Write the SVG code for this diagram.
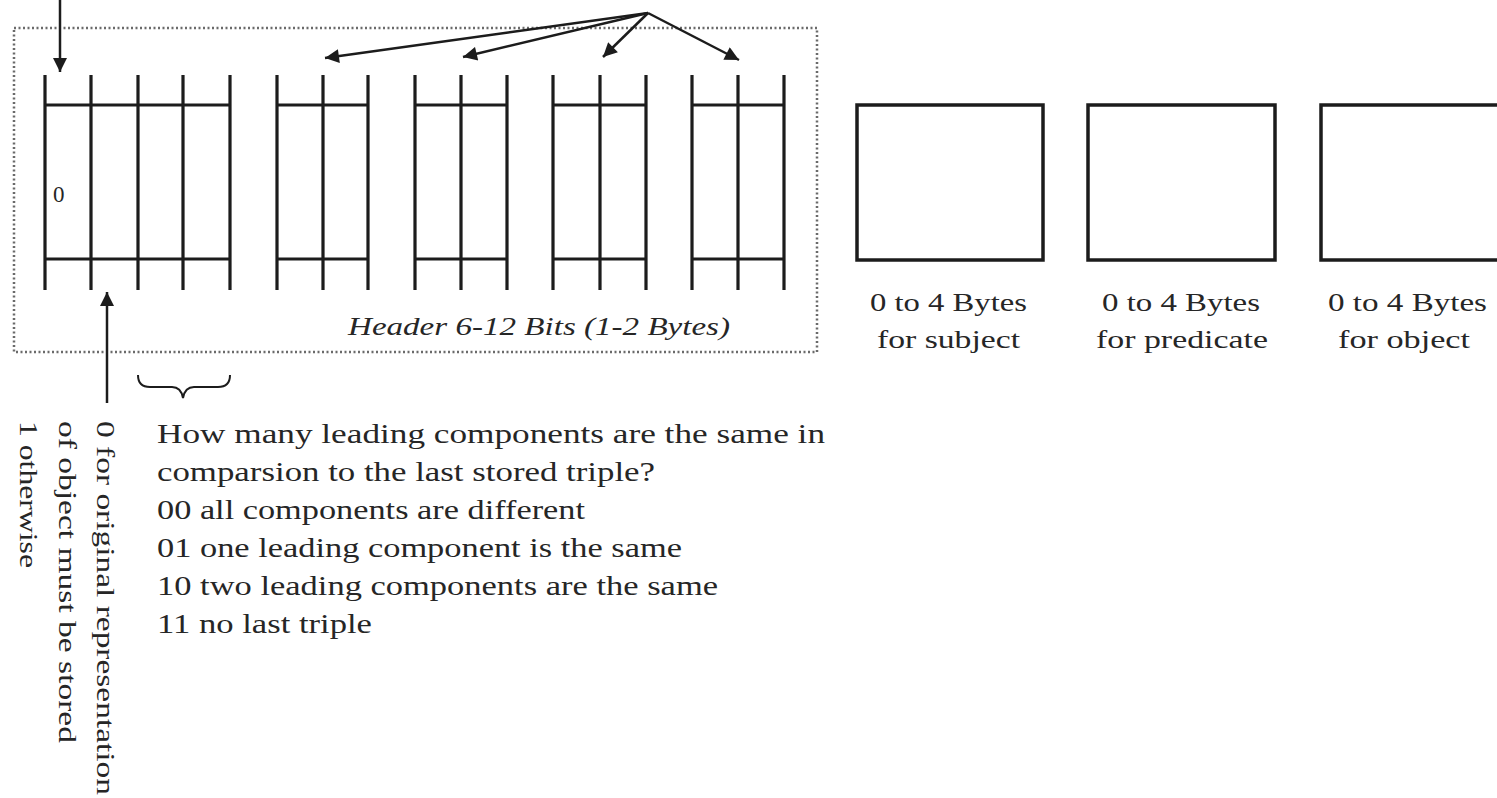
<svg xmlns="http://www.w3.org/2000/svg" width="1497" height="798" viewBox="0 0 1497 798">
  <style>
    .bit { stroke: #1c1c1c; stroke-width: 3.2; fill: none; }
    .box { stroke: #1c1c1c; stroke-width: 3.5; fill: #ffffff; }
    .dot { stroke: #6a6a6a; stroke-width: 2.5; stroke-dasharray: 2 2.5; fill: none; }
    .arr { stroke: #1c1c1c; stroke-width: 2.5; fill: none; marker-end: url(#ah); }
    .txt { font-family: "Liberation Serif", "Times New Roman", serif; fill: #262626; }
    .it { font-style: italic; }
  </style>
  <defs>
    <marker id="ah" viewBox="0 0 10 10" refX="10" refY="5" markerWidth="16" markerHeight="14" markerUnits="userSpaceOnUse" orient="auto">
      <path d="M0,0 L10,5 L0,10 z" fill="#1c1c1c"/>
    </marker>
  </defs>
  <rect width="1497" height="798" fill="#ffffff"/>

  <g id="header">
    <rect class="dot" x="14" y="28" width="803" height="324"/>
    <g id="bits-prefix">
      <path class="bit" d="M45,75 V290 M91,75 V290 M138,75 V290 M183,75 V290 M230,75 V290 M45,105 H230 M45,259 H230"/>
      <text class="txt" x="53" y="202" font-size="23" fill="#555">0</text>
    </g>
    <g id="bits-2">
      <path class="bit" d="M277,75 V290 M323,75 V290 M368,75 V290 M277,105 H368 M277,259 H368"/>
    </g>
    <g id="bits-3">
      <path class="bit" d="M415,75 V290 M461,75 V290 M507,75 V290 M415,105 H507 M415,259 H507"/>
    </g>
    <g id="bits-4">
      <path class="bit" d="M553,75 V290 M600,75 V290 M646,75 V290 M553,105 H646 M553,259 H646"/>
    </g>
    <g id="bits-5">
      <path class="bit" d="M692,75 V290 M738,75 V290 M784,75 V290 M692,105 H784 M692,259 H784"/>
    </g>
    <text class="txt it" x="348" y="335" font-size="26" textLength="382" lengthAdjust="spacingAndGlyphs">Header 6-12 Bits (1-2 Bytes)</text>
  </g>

  <g id="subject">
    <rect class="box" x="857" y="105" width="186" height="155"/>
    <text class="txt" x="870" y="311" font-size="26" textLength="157" lengthAdjust="spacingAndGlyphs">0 to 4 Bytes</text>
    <text class="txt" x="877" y="348" font-size="26" textLength="143" lengthAdjust="spacingAndGlyphs">for subject</text>
  </g>
  <g id="predicate">
    <rect class="box" x="1088" y="105" width="187" height="155"/>
    <text class="txt" x="1102" y="311" font-size="26" textLength="158" lengthAdjust="spacingAndGlyphs">0 to 4 Bytes</text>
    <text class="txt" x="1096" y="348" font-size="26" textLength="172" lengthAdjust="spacingAndGlyphs">for predicate</text>
  </g>
  <g id="object">
    <path class="box" d="M1500,105 H1321 V260 H1500"/>
    <text class="txt" x="1328" y="311" font-size="26" textLength="159" lengthAdjust="spacingAndGlyphs">0 to 4 Bytes</text>
    <text class="txt" x="1338" y="348" font-size="26" textLength="132" lengthAdjust="spacingAndGlyphs">for object</text>
  </g>

  <g id="brace">
    <path d="M138,375 Q138,387 150,387 L172,387 Q181,387 183,398 Q185,387 194,387 L218,387 Q230,387 230,375" stroke="#1c1c1c" stroke-width="2" fill="none"/>
  </g>

  <g id="leading-note">
    <text class="txt" x="157" y="443" font-size="27" textLength="668" lengthAdjust="spacingAndGlyphs">How many leading components are the same in</text>
    <text class="txt" x="157" y="481" font-size="27" textLength="498" lengthAdjust="spacingAndGlyphs">comparsion to the last stored triple?</text>
    <text class="txt" x="157" y="519" font-size="27" textLength="428" lengthAdjust="spacingAndGlyphs">00 all components are different</text>
    <text class="txt" x="157" y="557" font-size="27" textLength="525" lengthAdjust="spacingAndGlyphs">01 one leading component is the same</text>
    <text class="txt" x="157" y="595" font-size="27" textLength="561" lengthAdjust="spacingAndGlyphs">10 two leading components are the same</text>
    <text class="txt" x="157" y="633" font-size="27" textLength="215" lengthAdjust="spacingAndGlyphs">11 no last triple</text>
  </g>

  <g id="object-flag-note">
    <text class="txt" transform="translate(97,421) rotate(90)" font-size="25" textLength="374" lengthAdjust="spacingAndGlyphs">0 for original representation</text>
    <text class="txt" transform="translate(59,421) rotate(90)" font-size="25" textLength="322" lengthAdjust="spacingAndGlyphs">of object must be stored</text>
    <text class="txt" transform="translate(20,421) rotate(90)" font-size="25" textLength="147" lengthAdjust="spacingAndGlyphs">1 otherwise</text>
  </g>

  <g id="connectors">
    <line class="arr" x1="60" y1="0" x2="60" y2="72"/>
    <line class="arr" x1="107" y1="403" x2="107" y2="292"/>
    <line class="arr" x1="648" y1="13" x2="325" y2="58"/>
    <line class="arr" x1="648" y1="13" x2="463" y2="57"/>
    <line class="arr" x1="648" y1="13" x2="603" y2="57"/>
    <line class="arr" x1="648" y1="13" x2="739" y2="60"/>
  </g>
</svg>
